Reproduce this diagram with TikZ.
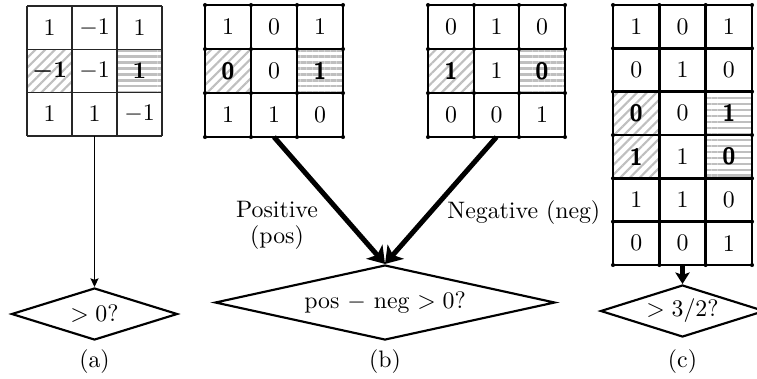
\documentclass[tikz,border=0pt]{standalone}
\usepackage{bm}
\usetikzlibrary{shapes.geometric,arrows.meta,patterns.meta}
\tikzset{
  diag/.style={pattern={Lines[angle=45,distance=2.9pt,line width=0.9pt]},pattern color=black!25},
  horiz/.style={pattern={Lines[angle=0,distance=2.5pt,line width=0.95pt]},pattern color=black!25},
  thingrid/.style={draw=black!85,line width=0.5pt},
  thickgrid/.style={draw=black,line width=1.15pt},
  dec/.style={diamond,draw,line width=0.9pt,inner sep=0pt},
  num/.style={inner sep=0pt},
  thinarrow/.style={line width=0.6pt,-{Stealth[length=3.6pt,width=3.4pt,inset=0.6pt]}},
  bigarrow/.style={line width=2.1pt,-{Stealth[length=6.8pt,width=9pt,inset=1.8pt]}},
  midarrow/.style={line width=1.7pt,-{Stealth[length=4.8pt,width=6pt,inset=1pt]}}
}
\newcommand{\bs}[1]{\textsf{\textbf{#1}}}
\begin{document}
\begin{tikzpicture}[x=0.42pt,y=-0.42pt]
\useasboundingbox (0,0) rectangle (757,378);
\clip (0,0) rectangle (757,378);
% ---------- (a) ----------
\fill[diag] (27,49.33) rectangle (72,92.67);
\fill[horiz] (117,49.33) rectangle (162,92.67);
\foreach \xx in {27,72,117,162} {\draw[thingrid] (\xx,6) -- (\xx,136);}
\foreach \yy in {6,49.33,92.67,136} {\draw[thingrid] (27,\yy) -- (162,\yy);}
\node[num] (a00) at (49.5,27.7) {$1$};
\node[num] (a01) at (94.5,27.7) {$-1$};
\node[num] (a02) at (139.5,27.7) {$1$};
\node[num] (a10) at (49.5,71) {$\bm{-1}$};
\node[num] (a11) at (94.5,71) {$-1$};
\node[num] (a12) at (139.5,71) {\textbf{1}};
\node[num] (a20) at (49.5,114.3) {$1$};
\node[num] (a21) at (94.5,114.3) {$1$};
\node[num] (a22) at (139.5,114.3) {$-1$};
\coordinate (abot) at (94.5,136);
\node[dec,aspect=3.19,minimum width={166*0.42pt},minimum height={52*0.42pt}] (da) at (94.5,314) {$>0$?};
\draw[thinarrow] (abot) -- (da.north);
\node (la) at (94.5,362) {(a)};
% ---------- (b) positive ----------
\fill[diag] (205,49) rectangle (251,93);
\fill[horiz] (297,49) rectangle (343,93);
\foreach \xx in {205,251,297,343} {\draw[thickgrid] (\xx,5) -- (\xx,137);}
\foreach \yy in {5,49,93,137} {\draw[thickgrid] (205,\yy) -- (343,\yy);}
\foreach \xx in {205,251,297,343} {\foreach \yy in {5,49,93,137} {\fill (\xx,\yy) circle[radius=0.85pt];}}
\node[num] (p00) at (228,27) {1};
\node[num] (p01) at (274,27) {0};
\node[num] (p02) at (320,27) {1};
\node[num] (p10) at (228,71) {\bs{0}};
\node[num] (p11) at (274,71) {0};
\node[num] (p12) at (320,71) {\bs{1}};
\node[num] (p20) at (228,115) {1};
\node[num] (p21) at (274,115) {1};
\node[num] (p22) at (320,115) {0};
\coordinate (pbot) at (274,137);
% ---------- (b) negative ----------
\fill[diag] (428,49) rectangle (474,93);
\fill[horiz] (519,49) rectangle (565,93);
\foreach \xx in {428,474,519,565} {\draw[thickgrid] (\xx,5) -- (\xx,137);}
\foreach \yy in {5,49,93,137} {\draw[thickgrid] (428,\yy) -- (565,\yy);}
\foreach \xx in {428,474,519,565} {\foreach \yy in {5,49,93,137} {\fill (\xx,\yy) circle[radius=0.85pt];}}
\node[num] (n00) at (451,27) {0};
\node[num] (n01) at (496.5,27) {1};
\node[num] (n02) at (542,27) {0};
\node[num] (n10) at (451,71) {\bs{1}};
\node[num] (n11) at (496.5,71) {1};
\node[num] (n12) at (542,71) {\bs{0}};
\node[num] (n20) at (451,115) {0};
\node[num] (n21) at (496.5,115) {0};
\node[num] (n22) at (542,115) {1};
\coordinate (nbot) at (496.5,137);
\node[dec,aspect=4.53,minimum width={340*0.42pt},minimum height={75*0.42pt}] (db) at (385,302.5) {pos $-$ neg $>0$?};
\draw[bigarrow] (pbot) -- (db.north);
\draw[bigarrow] (nbot) -- (db.north);
\node[align=center,inner sep=0pt] (lpos) at (277,225.5) {Positive\\[-1pt](pos)};
\node[anchor=west,inner sep=0pt] (lneg) at (447,213) {Negative (neg)};
\node (lb) at (385,362) {(b)};
% ---------- (c) ----------
\fill[diag] (613,91.67) rectangle (659.33,178.33);
\fill[horiz] (705.67,91.67) rectangle (752,178.33);
\foreach \xx in {613,659.33,705.67,752} {\draw[thickgrid] (\xx,5) -- (\xx,265);}
\foreach \yy in {5,48.33,91.67,135,178.33,221.67,265} {\draw[thickgrid] (613,\yy) -- (752,\yy);}
\foreach \xx in {613,659.33,705.67,752} {\foreach \yy in {5,48.33,91.67,135,178.33,221.67,265} {\fill (\xx,\yy) circle[radius=0.85pt];}}
\node[num] (c00) at (636.2,26.7) {1};
\node[num] (c01) at (682.5,26.7) {0};
\node[num] (c02) at (728.8,26.7) {1};
\node[num] (c10) at (636.2,70) {0};
\node[num] (c11) at (682.5,70) {1};
\node[num] (c12) at (728.8,70) {0};
\node[num] (c20) at (636.2,113.3) {\bs{0}};
\node[num] (c21) at (682.5,113.3) {0};
\node[num] (c22) at (728.8,113.3) {\bs{1}};
\node[num] (c30) at (636.2,156.7) {\bs{1}};
\node[num] (c31) at (682.5,156.7) {1};
\node[num] (c32) at (728.8,156.7) {\bs{0}};
\node[num] (c40) at (636.2,200) {1};
\node[num] (c41) at (682.5,200) {1};
\node[num] (c42) at (728.8,200) {0};
\node[num] (c50) at (636.2,243.3) {0};
\node[num] (c51) at (682.5,243.3) {0};
\node[num] (c52) at (728.8,243.3) {1};
\coordinate (cbot) at (682.5,265);
\node[dec,aspect=3.15,minimum width={164*0.42pt},minimum height={52*0.42pt}] (dc) at (682.5,311) {$>3/2$?};
\draw[midarrow] (cbot) -- (dc.north);
\node (lc) at (682.5,362) {(c)};
\end{tikzpicture}
\end{document}
